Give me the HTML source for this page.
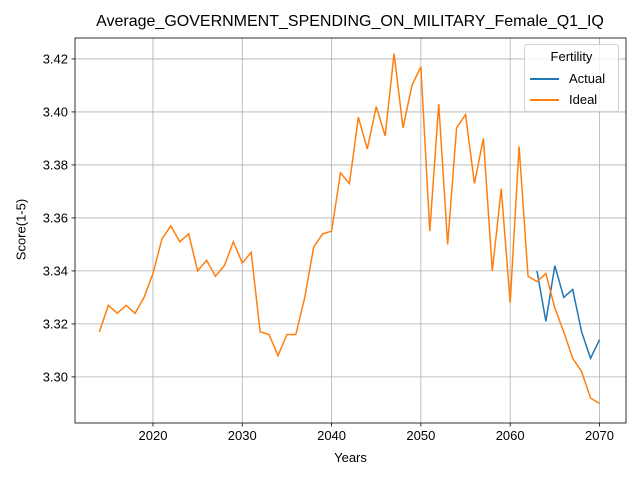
<!DOCTYPE html>
<html><head><meta charset="utf-8"><style>body{margin:0;background:#fff}svg{font-family:"Liberation Sans","DejaVu Sans",sans-serif}</style></head>
<body>
<svg id="chart" width="640" height="480" xmlns="http://www.w3.org/2000/svg"></svg>
<script>
const idealYears = [2014,2015,2016,2017,2018,2019,2020,2021,2022,2023,2024,2025,2026,2027,2028,2029,2030,2031,2032,2033,2034,2035,2036,2037,2038,2039,2040,2041,2042,2043,2044,2045,2046,2047,2048,2049,2050,2051,2052,2053,2054,2055,2056,2057,2058,2059,2060,2061,2062,2063,2064,2065,2066,2067,2068,2069,2070];
const idealValues = [3.317,3.327,3.324,3.327,3.324,3.330,3.339,3.352,3.357,3.351,3.354,3.340,3.344,3.338,3.342,3.351,3.343,3.347,3.317,3.316,3.308,3.316,3.316,3.330,3.349,3.354,3.355,3.377,3.373,3.398,3.386,3.402,3.391,3.422,3.394,3.410,3.417,3.355,3.403,3.350,3.394,3.399,3.373,3.390,3.340,3.371,3.328,3.387,3.338,3.336,3.339,3.326,3.317,3.307,3.302,3.292,3.290];
const actualYears = [2063,2064,2065,2066,2067,2068,2069,2070];
const actualValues = [3.340,3.321,3.342,3.330,3.333,3.317,3.307,3.314];
const xTicks = [2020,2030,2040,2050,2060,2070];
const yTicks = [3.30,3.32,3.34,3.36,3.38,3.40,3.42];

const L=75,R=626,T=38,B=423;
const xMin=2011.27,xMax=2072.97,yMin=3.2826,yMax=3.4279;
const sx=v=>L+(v-xMin)/(xMax-xMin)*(R-L);
const sy=v=>B-(v-yMin)/(yMax-yMin)*(B-T);
const svg=document.getElementById('chart');
const NS='http://www.w3.org/2000/svg';
function mk(tag,attrs,parent){const e=document.createElementNS(NS,tag);for(const k in attrs)e.setAttribute(k,attrs[k]);(parent||svg).appendChild(e);return e;}

xTicks.forEach(t=>{const x=sx(t);
 const g=mk('line',{x1:x,x2:x,y1:T,y2:B,stroke:'#b0b0b0','stroke-width':0.8});
 
 
 mk('line',{x1:x,x2:x,y1:B,y2:B+3.5,stroke:'#000','stroke-width':0.8});
 const tx=mk('text',{x:x,y:B+17,'text-anchor':'middle','font-size':13});tx.textContent=t;
 
 
});
yTicks.forEach(t=>{const y=sy(t);
 const g=mk('line',{x1:L,x2:R,y1:y,y2:y,stroke:'#b0b0b0','stroke-width':0.8});
 
 
 mk('line',{x1:L-3.5,x2:L,y1:y,y2:y,stroke:'#000','stroke-width':0.8});
 const tx=mk('text',{x:L-7,y:y+4.5,'text-anchor':'end','font-size':13});tx.textContent=t.toFixed(2);
 
 
});
function line(xs,ys,color,name){const p=mk('polyline',{points:xs.map((x,i)=>sx(x)+','+sy(ys[i])).join(' '),fill:'none',stroke:color,'stroke-width':1.5});
 
 }
line(actualYears,actualValues,'#1f77b4','actual-line');
line(idealYears,idealValues,'#ff7f0e','ideal-line');
const fr=mk('rect',{x:L,y:T,width:R-L,height:B-T,fill:'none',stroke:'#000','stroke-width':0.8});


</script>
<div style="position:absolute;left:0;top:0;width:640px;height:480px;pointer-events:none">
<div style="position:absolute;left:0;width:700px;top:13px;text-align:center;font:16px 'Liberation Sans',sans-serif">Average_GOVERNMENT_SPENDING_ON_MILITARY_Female_Q1_IQ</div>
<div style="position:absolute;left:75px;width:551px;top:450px;text-align:center;font:13px 'Liberation Sans',sans-serif">Years</div>
<div style="position:absolute;left:-19px;top:222px;width:80px;text-align:center;transform:rotate(-90deg);font:13px 'Liberation Sans',sans-serif">Score(1-5)</div>
<div style="position:absolute;left:524px;top:44px;width:93px;height:66px;border:1px solid #d0d0d0;border-radius:3px;background:rgba(255,255,255,0.8);font:13px 'Liberation Sans',sans-serif">
 <div style="position:absolute;left:0;width:93px;top:4px;text-align:center">Fertility</div>
 <div style="position:absolute;left:5px;top:25px"><span style="display:inline-block;width:29px;height:2px;background:#1f77b4;vertical-align:middle"></span><span style="margin-left:10px;vertical-align:middle">Actual</span></div>
 <div style="position:absolute;left:5px;top:46px"><span style="display:inline-block;width:29px;height:2px;background:#ff7f0e;vertical-align:middle"></span><span style="margin-left:10px;vertical-align:middle">Ideal</span></div>
</div>
</div>
</body></html>
